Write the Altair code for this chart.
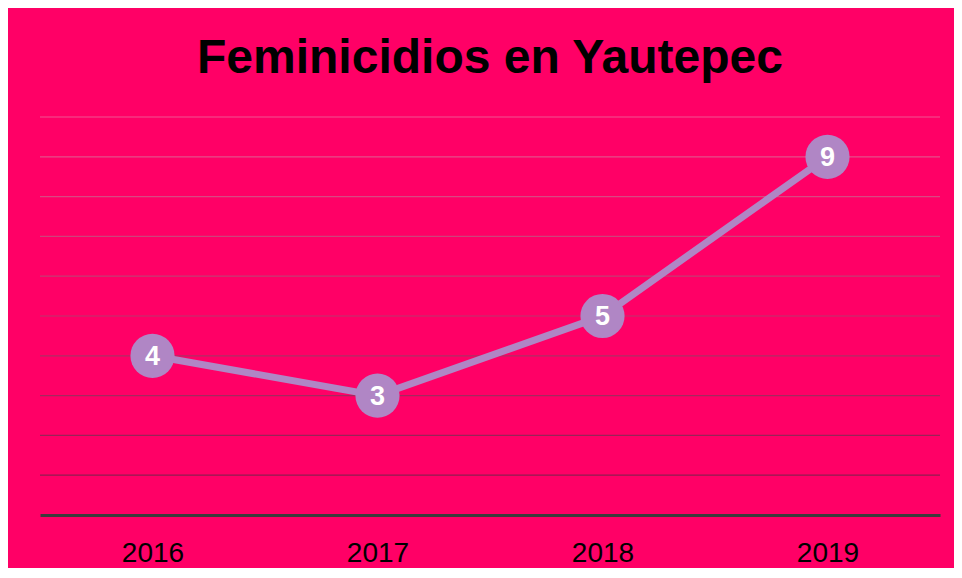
import altair as alt
import pandas as pd

years = ["2016", "2017", "2018", "2019"]
counts = [4, 3, 5, 9]
grid_values = [1, 2, 3, 4, 5, 6, 7, 8, 9, 10]

df = pd.DataFrame({"year": years, "count": counts})
grid_df = pd.DataFrame({"v": grid_values})

PINK = "#FF0066"
PURPLE = "#B086C5"
FONT = "Liberation Sans"

x_enc = alt.X("year:N", sort=years, title=None,
              scale=alt.Scale(paddingInner=0, paddingOuter=0),
              axis=alt.Axis(labelFontSize=28, labelColor="black", labelFont=FONT,
                            labelAngle=0, ticks=False, domainColor="#3c3c3c",
                            domainWidth=3, labelPadding=24, grid=False))
y_scale = alt.Scale(domain=[0, 10], nice=False)

grid = alt.Chart(grid_df).mark_rule(strokeWidth=1.2).encode(
    y=alt.Y("v:Q", scale=y_scale, axis=None),
    color=alt.Color("v:Q", scale=alt.Scale(domain=[1, 10], range=["#8f1c50", "#ef5590"]),
                    legend=None),
)

base = alt.Chart(df).encode(
    x=x_enc,
    y=alt.Y("count:Q", scale=y_scale, axis=None),
)

line = base.mark_line(color=PURPLE, strokeWidth=7)
points = base.mark_circle(color=PURPLE, size=1950, opacity=1)
labels = base.mark_text(color="white", fontSize=27, fontWeight="bold", font=FONT,
                        baseline="middle", align="center", dy=1).encode(
    text=alt.Text("count:Q"))

chart = alt.layer(grid, line, points, labels).properties(
    width=900, height=398,
    background=PINK,
    padding={"left": 32, "top": 109, "right": 14, "bottom": 53},
    autosize=alt.AutoSizeParams(type="none"),
    title=alt.Title("Feminicidios en Yautepec", fontSize=48, fontWeight="bold",
                    font=FONT, color="black", anchor="middle", offset=33),
).configure_view(stroke=None)

chart.save("out.html", embed_options={"renderer": "svg", "actions": False})
